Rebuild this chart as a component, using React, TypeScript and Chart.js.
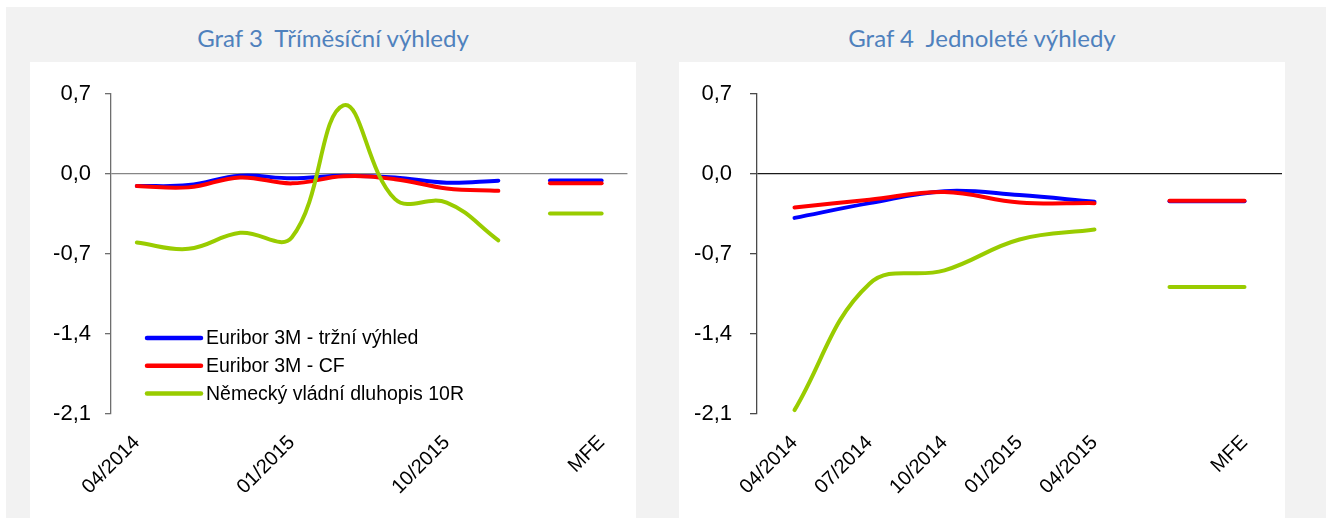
import React, { useEffect, useRef } from 'react';
import { Chart, registerables } from 'chart.js';

Chart.register(...registerables);

// ---------- data ----------
const Y_TICKS = [-2.1, -1.4, -0.7, 0, 0.7];

const LABELS_3M = ['04/2014', '07/2014', '10/2014', '01/2015', '04/2015', '07/2015', '10/2015', '01/2016', '', 'MFE'];
const EUR_MKT_3M = [-0.105, -0.097, -0.016, -0.038, -0.016, -0.03, -0.076, -0.058, null, null];
const EUR_CF_3M = [-0.105, -0.117, -0.03, -0.082, -0.02, -0.045, -0.126, -0.147, null, null];
const BUND_3M = [-0.6, -0.655, -0.515, -0.555, 0.6, -0.22, -0.25, -0.58, null, null];
const MFE_EUR_MKT_3M = [null, null, null, null, null, null, null, null, -0.056, -0.056];
const MFE_EUR_CF_3M = [null, null, null, null, null, null, null, null, -0.08, -0.08];
const MFE_BUND_3M = [null, null, null, null, null, null, null, null, -0.345, -0.345];
const SHOWN_LABELS_3M = [0, 3, 6, 9];

const LABELS_1Y = ['04/2014', '07/2014', '10/2014', '01/2015', '04/2015', '', 'MFE'];
const EUR_MKT_1Y = [-0.384, -0.255, -0.15, -0.184, -0.243, null, null];
const EUR_CF_1Y = [-0.293, -0.225, -0.158, -0.249, -0.255, null, null];
const BUND_1Y = [-2.066, -0.96, -0.843, -0.573, -0.486, null, null];
const MFE_EUR_MKT_1Y = [null, null, null, null, null, -0.238, -0.238];
const MFE_EUR_CF_1Y = [null, null, null, null, null, -0.234, -0.234];
const MFE_BUND_1Y = [null, null, null, null, null, -0.989, -0.989];

const SERIES_NAMES = ['Euribor 3M - tržní výhled', 'Euribor 3M - CF', 'Německý vládní dluhopis 10R'];

// ---------- styles ----------
const BLUE = '#0000ff';
const RED = '#ff0000';
const GREEN = '#99cc00';
const FONT = "'Liberation Sans', Arial, sans-serif";

function fmt(v: number): string {
  const r = Math.round(v * 10) / 10;
  return (r === 0 ? 0 : r).toFixed(1).replace('.', ',');
}

const insideLegend = {
  id: 'insideLegend',
  afterDatasetsDraw(chart: any, _args: any, opts: any) {
    if (!opts || !opts.show) return;
    const { ctx, chartArea } = chart;
    const items = chart.data.datasets.filter((d: any) => !d.isMfe);
    ctx.save();
    items.forEach((ds: any, i: number) => {
      const y = chartArea.top + opts.top + i * opts.gap;
      const x0 = chartArea.left + opts.left;
      ctx.strokeStyle = ds.borderColor;
      ctx.lineWidth = 4.5;
      ctx.lineCap = 'round';
      ctx.beginPath();
      ctx.moveTo(x0, y);
      ctx.lineTo(x0 + 54, y);
      ctx.stroke();
      ctx.fillStyle = '#000';
      ctx.font = `19.5px ${FONT}`;
      ctx.textAlign = 'left';
      ctx.textBaseline = 'middle';
      ctx.fillText(ds.label, x0 + 59, y + 1);
    });
    ctx.restore();
  },
};

function line(label: string, data: (number | null)[], color: string, order: number, isMfe = false) {
  return {
    label,
    data,
    borderColor: color,
    backgroundColor: color,
    borderWidth: 4,
    pointRadius: 0,
    pointHoverRadius: 0,
    tension: 0.4,
    borderCapStyle: 'round',
    borderJoinStyle: 'round',
    spanGaps: false,
    order,
    isMfe,
  };
}

type PanelProps = {
  labels: string[];
  datasets: any[];
  axisWidth: number;
  rightPad: number;
  tickLen: number;
  tickPad: number;
  zeroColor: string;
  axisColor: string;
  shown?: number[];
  legend: boolean;
};

function ChartPanel(p: PanelProps) {
  const ref = useRef<HTMLCanvasElement | null>(null);
  useEffect(() => {
    if (!ref.current) return;
    const chart = new Chart(ref.current, {
      type: 'line',
      data: { labels: p.labels, datasets: p.datasets },
      plugins: [insideLegend],
      options: {
        animation: false,
        responsive: false,
        devicePixelRatio: 1,
        layout: { padding: { top: 32, right: p.rightPad, left: 0, bottom: 0 } },
        plugins: {
          legend: { display: false },
          tooltip: { enabled: false },
          insideLegend: { show: p.legend, left: 36, top: 244, gap: 27.7 },
        } as any,
        scales: {
          x: {
            type: 'category',
            offset: true,
            grid: { display: false, drawTicks: false },
            border: { display: false },
            ticks: {
              autoSkip: false,
              maxRotation: 45,
              minRotation: 45,
              padding: 17,
              color: '#000',
              font: { family: FONT, size: 20 },
              callback: (_v: any, idx: number) =>
                !p.shown || p.shown.includes(idx) ? p.labels[idx] : '',
            },
            afterFit: (s: any) => {
              s.height = 104;
            },
          },
          y: {
            min: -2.1,
            max: 0.7,
            afterBuildTicks: (s: any) => {
              s.ticks = Y_TICKS.map((v) => ({ value: v }));
            },
            grid: {
              drawTicks: true,
              tickLength: p.tickLen,
              tickColor: p.axisColor,
              color: (c: any) => (c.tick && Math.abs(c.tick.value) < 1e-9 ? p.zeroColor : 'rgba(0,0,0,0)'),
              lineWidth: 1.3,
            },
            border: { display: true, color: p.axisColor, width: 1.3 },
            ticks: {
              padding: p.tickPad,
              color: '#000',
              font: { family: FONT, size: 22 },
              callback: (v: any) => fmt(Number(v)),
            },
            afterFit: (s: any) => {
              s.width = p.axisWidth;
            },
          },
        },
      } as any,
    });
    return () => chart.destroy();
  }, []);
  return <canvas ref={ref} width={606} height={456} style={{ display: 'block' }} />;
}

const titleStyle: React.CSSProperties = {
  position: 'absolute',
  top: 24,
  width: 606,
  height: 28,
  lineHeight: '28px',
  textAlign: 'center',
  fontFamily: "Lato, 'Open Sans', sans-serif",
  fontSize: 24,
  color: '#4f81bd',
  whiteSpace: 'pre',
};

const panelStyle: React.CSSProperties = {
  position: 'absolute',
  top: 62,
  width: 606,
  height: 456,
  background: '#ffffff',
};

export default function App() {
  const ds3m = [
    line(SERIES_NAMES[0], EUR_MKT_3M, BLUE, 3),
    line(SERIES_NAMES[1], EUR_CF_3M, RED, 2),
    line(SERIES_NAMES[2], BUND_3M, GREEN, 1),
    line('MFE ' + SERIES_NAMES[0], MFE_EUR_MKT_3M, BLUE, 3, true),
    line('MFE ' + SERIES_NAMES[1], MFE_EUR_CF_3M, RED, 2, true),
    line('MFE ' + SERIES_NAMES[2], MFE_BUND_3M, GREEN, 1, true),
  ];
  const ds1y = [
    line(SERIES_NAMES[0], EUR_MKT_1Y, BLUE, 3),
    line(SERIES_NAMES[1], EUR_CF_1Y, RED, 2),
    line(SERIES_NAMES[2], BUND_1Y, GREEN, 1),
    line('MFE ' + SERIES_NAMES[0], MFE_EUR_MKT_1Y, BLUE, 3, true),
    line('MFE ' + SERIES_NAMES[1], MFE_EUR_CF_1Y, RED, 2, true),
    line('MFE ' + SERIES_NAMES[2], MFE_BUND_1Y, GREEN, 1, true),
  ];
  return (
    <div style={{ position: 'absolute', left: 0, top: 0, width: 1326, height: 518, background: '#fff', overflow: 'hidden' }}>
      <div style={{ position: 'absolute', left: 6, top: 7, right: 0, bottom: 0, background: '#f2f2f2' }} />
      <div style={{ ...titleStyle, left: 30 }}>{'Graf 3  Tříměsíční výhledy'}</div>
      <div style={{ ...titleStyle, left: 679 }}>{'Graf 4  Jednoleté výhledy'}</div>
      <div style={{ ...panelStyle, left: 30 }}>
        <ChartPanel
          labels={LABELS_3M}
          datasets={ds3m}
          axisWidth={81}
          rightPad={8}
          tickLen={6}
          tickPad={14}
          zeroColor="#868686"
          axisColor="#6e6e6e"
          shown={SHOWN_LABELS_3M}
          legend={true}
        />
      </div>
      <div style={{ ...panelStyle, left: 679 }}>
        <ChartPanel
          labels={LABELS_1Y}
          datasets={ds1y}
          axisWidth={78}
          rightPad={3}
          tickLen={7}
          tickPad={18}
          zeroColor="#1a1a1a"
          axisColor="#4a4a4a"
          legend={false}
        />
      </div>
    </div>
  );
}
